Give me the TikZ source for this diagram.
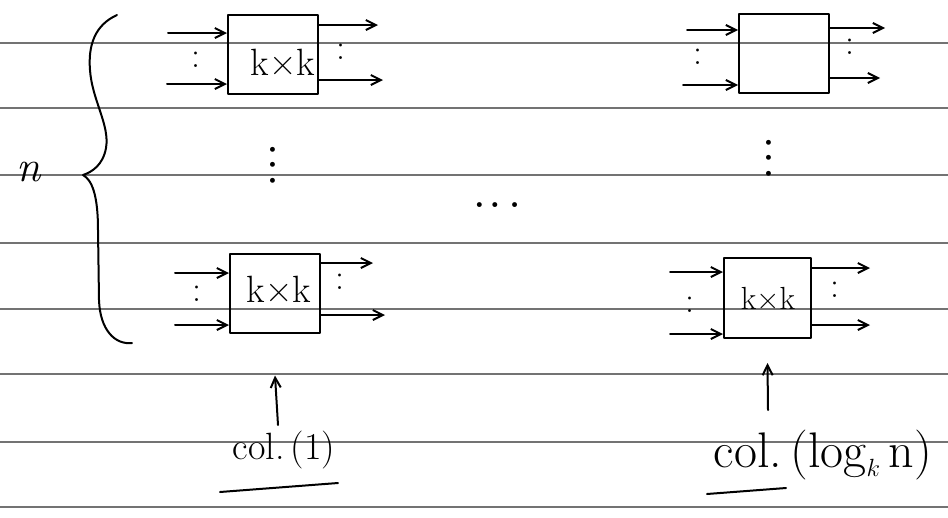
\documentclass[tikz,border=0pt]{standalone}
\usetikzlibrary{arrows.meta}
\begin{document}
\begin{tikzpicture}[x=1pt,y=-1pt,
  ink/.style={line width=2pt,line cap=round,line join=round},
  rule/.style={black!55,line width=1.1pt},
  sw/.style={draw,ink,minimum width=90pt,minimum height=79pt,inner sep=0pt},
  swtext/.style={font=\fontsize{38}{40}\selectfont,inner sep=0pt},
  wire/.style={ink,-{Straight Barb[length=10pt,width=10pt,line width=2pt]}},
  gap/.style={font=\fontsize{36}{38}\selectfont,inner sep=0pt},
  dotrow/.style={font=\fontsize{34}{36}\selectfont\bfseries,inner sep=0pt},
  lab/.style={font=\fontsize{38}{42}\selectfont,inner sep=2pt}]
% page and ruled lines
\fill[white] (0,0) rectangle (948,517);
\useasboundingbox (0,0) rectangle (948,517);
\foreach \yy in {43,108,175,243,309,374,442,507}
  \draw[rule] (0,\yy) -- (948,\yy);

% switch boxes
\node[sw] (b11) at (273,54.5) {};
\node[sw] (b1n) at (275,293) {};
\node[sw] (bm1) at (784,53) {};
\node[sw,minimum width=87pt,minimum height=80pt] (bmn) at (767.5,298) {};
\node[swtext] (k11) at (283,62) {k×k};
\node[swtext] (k1n) at (279,289) {k×k};
\node[swtext,font=\fontsize{32}{34}\selectfont] (kmn) at (768,298) {k×k};

% free ends of the wires
\coordinate (a1) at (168,33);  \coordinate (a2) at (167,84);
\coordinate (a3) at (378,25);  \coordinate (a4) at (383,80);
\coordinate (c1) at (175,273); \coordinate (c2) at (175,325);
\coordinate (c3) at (373,263); \coordinate (c4) at (385,315);
\coordinate (e1) at (687,30);  \coordinate (e2) at (683,85);
\coordinate (e3) at (885,28);  \coordinate (e4) at (880,78);
\coordinate (g1) at (670,272); \coordinate (g2) at (670,334);
\coordinate (g3) at (870,268); \coordinate (g4) at (870,325);

% column 1, first switch
\draw[wire] (a1) -- ([yshift=21.5pt]b11.west);
\draw[wire] (a2) -- ([yshift=-29.5pt]b11.west);
\draw[wire] ([yshift=29.5pt]b11.east) -- (a3);
\draw[wire] ([yshift=-25.5pt]b11.east) -- (a4);
% column 1, last switch
\draw[wire] (c1) -- ([yshift=20pt]b1n.west);
\draw[wire] (c2) -- ([yshift=-32pt]b1n.west);
\draw[wire] ([yshift=30pt]b1n.east) -- (c3);
\draw[wire] ([yshift=-22pt]b1n.east) -- (c4);
% last column, first switch
\draw[wire] (e1) -- ([yshift=23pt]bm1.west);
\draw[wire] (e2) -- ([yshift=-32pt]bm1.west);
\draw[wire] ([yshift=25pt]bm1.east) -- (e3);
\draw[wire] ([yshift=-25pt]bm1.east) -- (e4);
% last column, last switch
\draw[wire] (g1) -- ([yshift=26pt]bmn.west);
\draw[wire] (g2) -- ([yshift=-36pt]bmn.west);
\draw[wire] ([yshift=30pt]bmn.east) -- (g3);
\draw[wire] ([yshift=-27pt]bmn.east) -- (g4);

% elided wires between the arrows
\node[gap] (d1) at (196,60) {:};
\node[gap] (d2) at (341,52) {:};
\node[gap] (d3) at (197,294) {:};
\node[gap] (d4) at (340,282) {:};
\node[gap] (d5) at (698,57) {:};
\node[gap] (d6) at (850,47) {:};
\node[gap] (d7) at (690,305) {:};
\node[gap] (d8) at (835,290) {:};

% elided switches and columns
\node[dotrow,rotate=-90] (v1) at (273,165) {.\hspace{5pt}.\hspace{5pt}.};
\node[dotrow,rotate=-90] (v2) at (769,158) {.\hspace{5pt}.\hspace{5pt}.};
\node[dotrow] (h1) at (497,205) {.\hspace{5pt}.\hspace{9pt}.};

% brace spanning the n rows
\draw[ink] (117,15) .. controls (95,25) and (88,45) .. (90,70)
  .. controls (92,100) and (110,125) .. (106,148)
  .. controls (103,165) and (92,172) .. (83,175)
  .. controls (92,180) and (98,195) .. (98,230)
  -- (99,300) .. controls (100,330) and (115,345) .. (132,343);
\node[font=\fontsize{44}{46}\selectfont\itshape,inner sep=0pt] (nn) at (29,172) {n};

% column labels
\node[lab] (l1) at (284,450) {col.\,(1)};
\node[lab,font=\fontsize{50}{54}\selectfont] (l2) at (823,455) {col.\,(log$_{k}$\,n)};
\coordinate (t1) at (278,425);
\coordinate (t2) at (768,410);
\draw[wire] (t1) -- ([yshift=-42pt]b1n.south);
\draw[wire] (t2) -- ([yshift=-24pt]bmn.south);
\coordinate (u1) at (220,492); \coordinate (u2) at (338,483);
\coordinate (u3) at (707,494); \coordinate (u4) at (786,488);
\draw[ink] (u1) -- (u2);
\draw[ink] (u3) -- (u4);
\end{tikzpicture}
\end{document}
